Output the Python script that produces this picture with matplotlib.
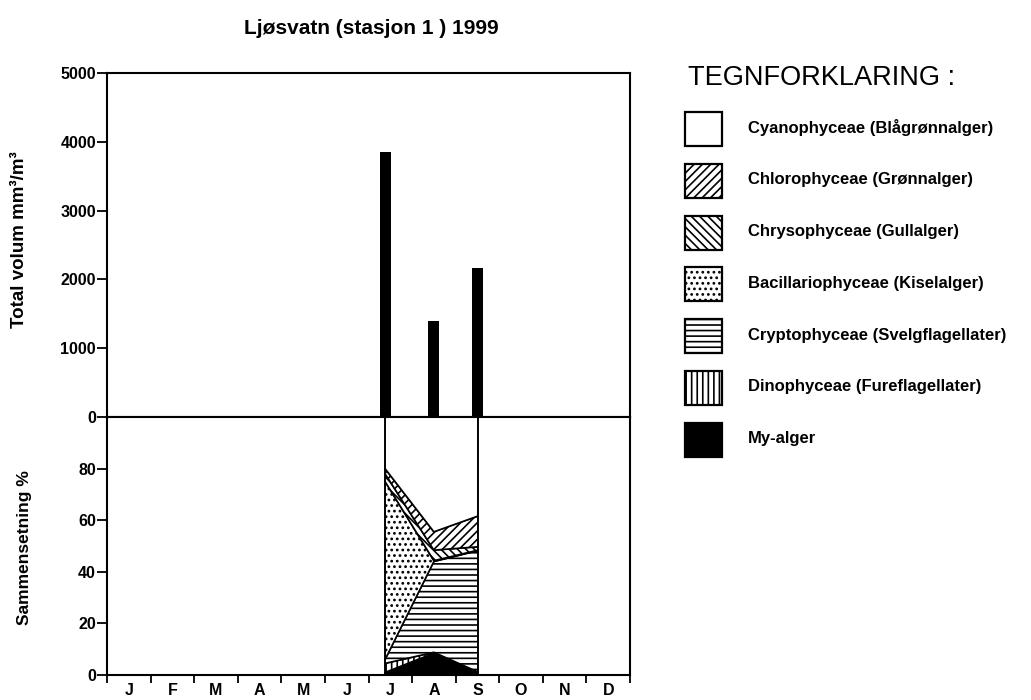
import matplotlib
matplotlib.use("Agg")
import matplotlib.pyplot as plt
from matplotlib.patches import Rectangle
import numpy as np

plt.rcParams['font.family'] = ['Liberation Sans', 'DejaVu Sans']
plt.rcParams['hatch.linewidth'] = 1.2

# ---------------- data ----------------
title = "Ljøsvatn (stasjon 1 ) 1999"
month_labels = ["J", "F", "M", "A", "M", "J", "J", "A", "S", "O", "N", "D"]
# sampling dates as position in months (0 = 1 Jan, 12 = 31 Dec)
sample_pos = [6.38, 7.50, 8.51]
total_volume = [3850, 1390, 2170]          # mm3/m3

# composition (%) per sample, from bottom of the stack to the top
my_alger = [1.0, 8.5, 1.2]
dinophyceae = [3.5, 0.3, 0.0]
cryptophyceae = [1.5, 35.2, 47.0]
bacillariophyceae = [69.0, 0.3, 0.2]
chrysophyceae = [3.0, 4.1, 1.3]
chlorophyceae = [2.0, 7.1, 11.9]
cyanophyceae = [20.0, 44.5, 38.4]

groups = [
    ("Cyanophyceae (Blågrønnalger)", cyanophyceae, "white", ""),
    ("Chlorophyceae (Grønnalger)", chlorophyceae, "white", "////"),
    ("Chrysophyceae (Gullalger)", chrysophyceae, "white", "\\\\\\\\"),
    ("Bacillariophyceae (Kiselalger)", bacillariophyceae, "white", "..."),
    ("Cryptophyceae (Svelgflagellater)", cryptophyceae, "white", "---"),
    ("Dinophyceae (Fureflagellater)", dinophyceae, "white", "|||"),
    ("My-alger", my_alger, "black", ""),
]

W, H = 1031, 700
fig = plt.figure(figsize=(W / 100, H / 100), dpi=100)

def fx(px):
    return px / W

def fy(py):
    return 1 - py / H

left, right = 107, 630
ax1 = fig.add_axes([fx(left), fy(417), fx(right - left), fy(73) - fy(417)])
ax2 = fig.add_axes([fx(left), fy(675), fx(right - left), fy(417) - fy(675)])

tick_fs = 11.5

# ---------- upper panel: total volume ----------
ax1.bar(sample_pos, total_volume, width=0.25, color="black", zorder=3)
ax1.set_xlim(0, 12)
ax1.set_ylim(0, 5000)
ax1.set_yticks([0, 1000, 2000, 3000, 4000, 5000])
ax1.set_yticklabels(["0", "1000", "2000", "3000", "4000", "5000"],
                    fontsize=tick_fs, fontweight="bold")
ax1.tick_params(axis="y", direction="out", length=7, width=1.3, pad=1)
ax1.tick_params(axis="x", length=0, labelbottom=False)
for s in ax1.spines.values():
    s.set_linewidth(1.5)
fig.text(fx(20), fy(240), "Total volum mm³/m³", rotation=90, fontsize=13.5,
         fontweight="bold", ha="center", va="center")
fig.text(fx(371), fy(28), title, fontsize=15, fontweight="bold",
         ha="center", va="center")

# ---------- lower panel: composition ----------
stack_order = groups[::-1]  # bottom to top
x = np.array(sample_pos)
base = np.zeros(len(x))
for name, vals, fc, hatch in stack_order:
    v = np.array(vals, dtype=float)
    top = base + v
    ax2.fill_between(x, base, top, facecolor=fc, edgecolor="black",
                     hatch=hatch, linewidth=1.2, zorder=2)
    base = top
ax2.vlines([x[0], x[-1]], 0, 100, colors="black", linewidth=1.2, zorder=3)

ax2.set_xlim(0, 12)
ax2.set_ylim(0, 100)
ax2.set_yticks([0, 20, 40, 60, 80])
ax2.set_yticklabels(["0", "20", "40", "60", "80"], fontsize=tick_fs,
                    fontweight="bold")
ax2.tick_params(axis="y", direction="out", length=7, width=1.3, pad=1)
ax2.set_xticks(np.arange(0, 13))
ax2.set_xticklabels([])
ax2.set_xticks(np.arange(12) + 0.5, minor=True)
ax2.set_xticklabels(month_labels, minor=True, fontsize=11.5, fontweight="bold")
ax2.tick_params(axis="x", which="major", direction="out", length=6, width=1.3)
ax2.tick_params(axis="x", which="minor", length=0, pad=6)
for s in ax2.spines.values():
    s.set_linewidth(1.5)
fig.text(fx(25), fy(548), "Sammensetning %", rotation=90, fontsize=12.5,
         fontweight="bold", ha="center", va="center")

# ---------- legend ----------
axl = fig.add_axes([0, 0, 1, 1], facecolor="none")
axl.set_xlim(0, W)
axl.set_ylim(H, 0)
axl.axis("off")
axl.text(688, 78, "TEGNFORKLARING :", fontsize=19.5, va="center", ha="left")
y0 = 112
for i, (name, vals, fc, hatch) in enumerate(groups):
    yy = y0 + i * 51.8
    axl.add_patch(Rectangle((685, yy), 37, 34, facecolor=fc, edgecolor="black",
                            hatch=hatch, linewidth=1.6))
    axl.text(748, yy + 16, name, fontsize=12, fontweight="bold",
             va="center", ha="left")

fig.savefig("out.png", dpi=100)
